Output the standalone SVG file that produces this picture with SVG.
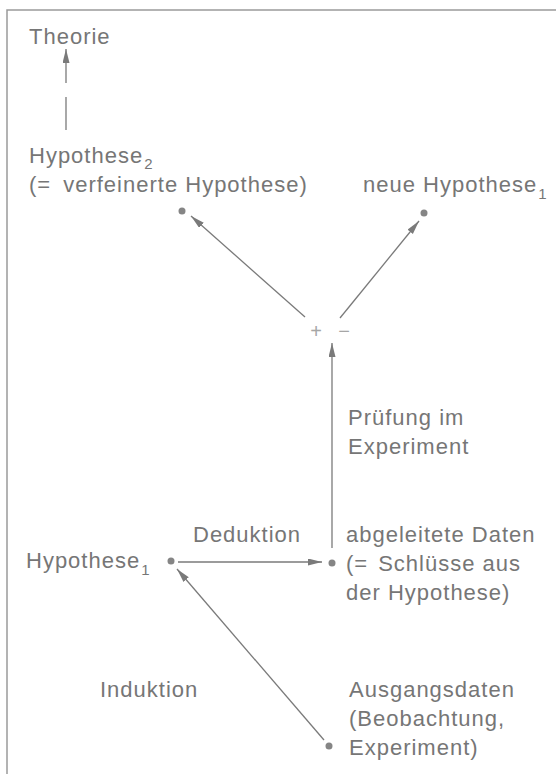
<svg xmlns="http://www.w3.org/2000/svg" width="556" height="774" viewBox="0 0 556 774">
<style>
.t{font-family:"Liberation Sans",Arial,sans-serif;font-size:22px;letter-spacing:1px;fill:#767676}
.s{font-size:15px;letter-spacing:0}
.pm{font-family:"Liberation Sans",Arial,sans-serif;font-size:20px;fill:#a6a6a6;text-anchor:middle}
.c{stroke:#7a7a7a;stroke-width:1.3;fill:none}
.a{marker-end:url(#ah)}
.d{fill:#858585}
.f{stroke:#9a9a9a;stroke-width:1.5;fill:none}
</style>
<defs>
<marker id="ah" markerUnits="userSpaceOnUse" markerWidth="15" markerHeight="8" refX="14" refY="3.5" orient="auto">
<path d="M0,0 L14,3.5 L0,7 Z" fill="#7a7a7a"/>
</marker>
</defs>
<rect width="556" height="774" fill="#fff"/>
<path class="f" d="M7,774 L7,10 L556,10"/>
<g id="connectors">
<line class="c a" x1="66" y1="83" x2="66" y2="49"/>
<line class="c" x1="66" y1="97" x2="66" y2="130"/>
<line class="c a" x1="305" y1="317" x2="191" y2="216"/>
<line class="c a" x1="340" y1="318" x2="419" y2="221"/>
<line class="c a" x1="332" y1="548" x2="332" y2="343"/>
<line class="c a" x1="178" y1="562" x2="322" y2="562"/>
<line class="c a" x1="324" y1="740" x2="177" y2="569"/>
</g>
<g id="theorie"><text class="t" x="29" y="44">Theorie</text></g>
<g id="hypothese2">
<text class="t" x="29" y="163">Hypothese<tspan class="s" dx="1" dy="6">2</tspan></text>
<text class="t" x="29" y="192">(=<tspan dx="12">verfeinerte Hypothese)</tspan></text>
<circle class="d" cx="182" cy="211" r="3.5"/>
</g>
<g id="neue-hypothese1">
<text class="t" x="363" y="192">neue Hypothese<tspan class="s" dx="1" dy="7">1</tspan></text>
<circle class="d" cx="424" cy="213" r="3.5"/>
</g>
<g id="ergebnis">
<text class="pm" x="316" y="338">+</text>
<text class="pm" x="344" y="338">−</text>
</g>
<g id="pruefung">
<text class="t" x="348" y="425">Prüfung im</text>
<text class="t" x="348" y="454">Experiment</text>
</g>
<g id="hypothese1">
<text class="t" x="26" y="568">Hypothese<tspan class="s" dx="1" dy="7">1</tspan></text>
<circle class="d" cx="171" cy="561" r="3.5"/>
</g>
<g id="deduktion"><text class="t" x="193" y="542">Deduktion</text></g>
<g id="abgeleitete-daten">
<text class="t" x="346" y="542">abgeleitete Daten</text>
<text class="t" x="346" y="571">(=<tspan dx="10">Schlüsse aus</tspan></text>
<text class="t" x="346" y="600">der Hypothese)</text>
<circle class="d" cx="332" cy="563" r="3.5"/>
</g>
<g id="induktion"><text class="t" x="100" y="697">Induktion</text></g>
<g id="ausgangsdaten">
<text class="t" x="349" y="697">Ausgangsdaten</text>
<text class="t" x="349" y="726">(Beobachtung,</text>
<text class="t" x="349" y="755">Experiment)</text>
<circle class="d" cx="329" cy="746" r="3.5"/>
</g>
</svg>
